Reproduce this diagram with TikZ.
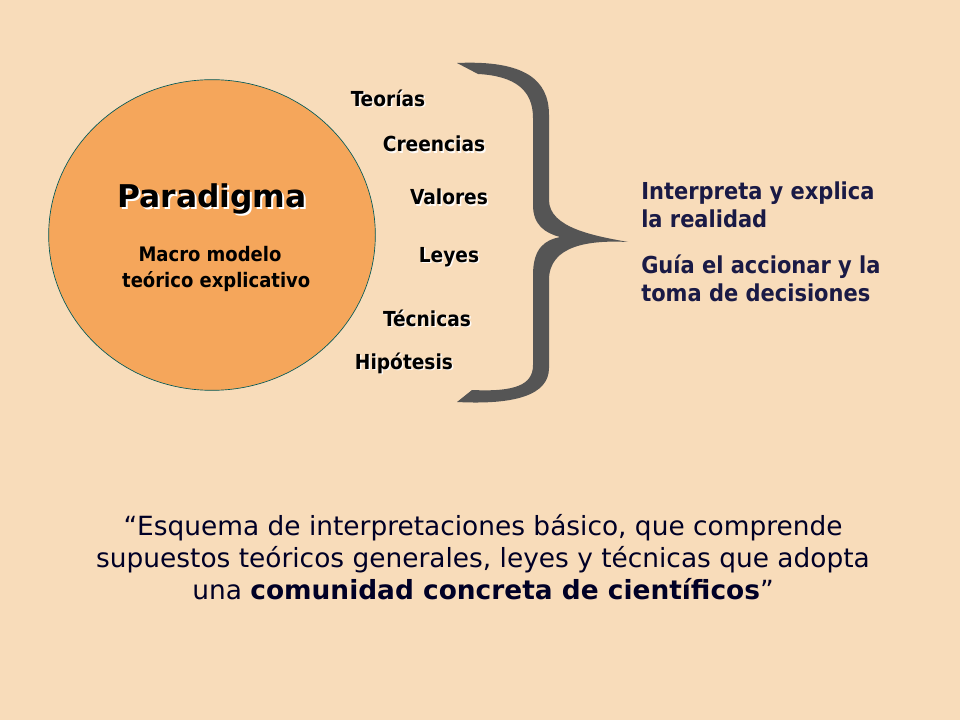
\documentclass[tikz,border=0pt]{standalone}
\usepackage{fontspec}
\usetikzlibrary{shapes.geometric}
\setmainfont{DejaVu Sans}
\newfontfamily\cond{DejaVu Sans Condensed}
\definecolor{bg}{HTML}{F8DCBA}
\definecolor{orb}{HTML}{F5A65B}
\definecolor{navy}{HTML}{1A1A45}
\definecolor{brc}{HTML}{555555}
\begin{document}
\begin{tikzpicture}[x=0.75pt,y=-0.75pt,
  lbl/.style={font=\cond\bfseries\fontsize{15.5}{18}\selectfont,inner sep=0pt},
  rt/.style={font=\cond\bfseries\fontsize{17.5}{21}\selectfont,text=navy,anchor=west,inner sep=0pt,align=left}]
\fill[bg] (0,0) rectangle (960,720);
\useasboundingbox (0,0) rectangle (960,720);
\node[draw=teal!70!black,line width=0.5pt,fill=orb,ellipse,minimum width=245pt,minimum height=233pt,inner sep=0pt] (circ) at (212,235) {};
\node[font=\bfseries\fontsize{23.5}{28}\selectfont,text=white] at (214,201) {Paradigma};
\node[font=\bfseries\fontsize{23.5}{28}\selectfont] (par) at (212,199) {Paradigma};
\node[font=\cond\bfseries\fontsize{15}{19.5}\selectfont,align=center] (macro) at (210,269) {Macro modelo\\\ \ teórico explicativo};
\foreach \n/\t/\x/\y in {teo/Teorías/388/98,cre/Creencias/434/144,val/Valores/449/197,ley/Leyes/449/257,tec/Técnicas/427/318,hip/Hipótesis/404/363}{
  \node[lbl,text=white!90!bg] at (\x+1.5,\y+1.5) {\t};
  \node[lbl] (\n) at (\x,\y) {\t};
}
\fill[brc] (457,63) .. controls (525,60) and (549,80) .. (549,115) -- (549,200) .. controls (549,228) and (595,236) .. (628,242) .. controls (590,240) and (549,245) .. (549,280) -- (549,368) .. controls (549,395) and (515,405) .. (457,402) -- (472,390) .. controls (515,392) and (533,385) .. (533,365) -- (533,275) .. controls (533,248) and (545,240) .. (560,237) .. controls (545,233) and (533,225) .. (533,205) -- (533,118) .. controls (533,90) and (515,76) .. (478,74) -- cycle;
\node[rt] (r1) at (641,205) {Interpreta y explica\\la realidad};
\node[rt] (r2) at (641,278) {Guía el accionar y la\\toma de decisiones};
\node[font=\fontsize{19.8}{24}\selectfont,text=black!85!blue,align=center] (q) at (483,557) {“Esquema de interpretaciones básico, que comprende\\supuestos teóricos generales, leyes y técnicas que adopta\\una \textbf{comunidad concreta de científicos}”};
\end{tikzpicture}
\end{document}
